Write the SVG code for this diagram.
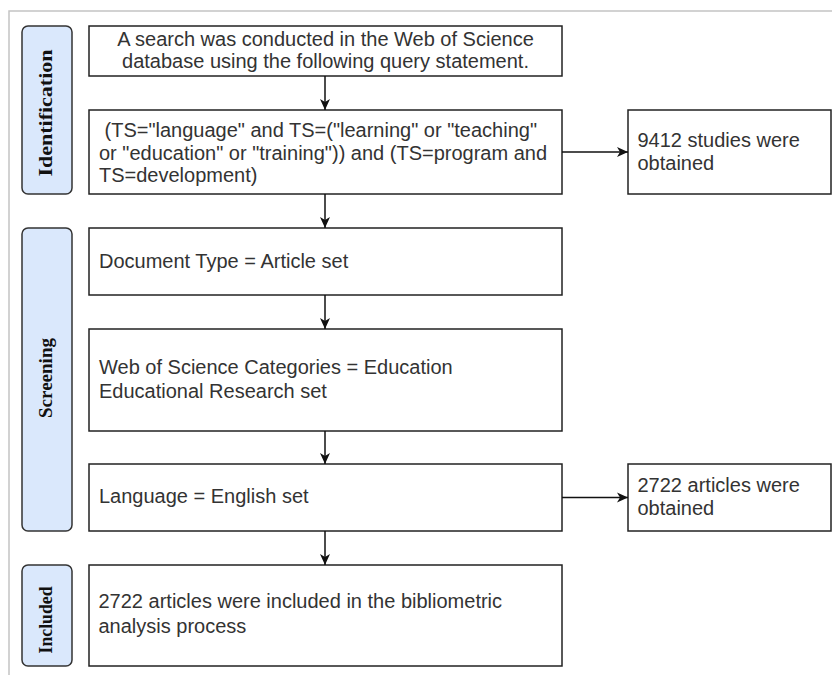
<svg xmlns="http://www.w3.org/2000/svg" width="832" height="675" viewBox="0 0 832 675">
<defs>
<marker id="arr" markerWidth="12" markerHeight="12" refX="11" refY="6" orient="auto" markerUnits="userSpaceOnUse">
<path d="M0,1 L11,6 L0,11 L3,6 Z" fill="#111"/>
</marker>
<style>
.box{fill:#fff;stroke:#222;stroke-width:1.5}
.side{fill:#dae8fc;stroke:#333;stroke-width:1.5}
.t{font-family:"Liberation Sans",Arial,sans-serif;font-size:20px;fill:#333}
.c{text-anchor:middle}
.s{font-family:"Liberation Serif","Times New Roman",serif;font-size:19px;font-weight:bold;fill:#111;text-anchor:middle}
.ln{stroke:#111;stroke-width:1.5;fill:none;marker-end:url(#arr)}
</style>
</defs>
<rect width="832" height="675" fill="#fff"/>
<path d="M9,675 V11 H832" fill="none" stroke="#c4c4c4" stroke-width="1.5"/>

<g id="lbl-identification">
<rect class="side" x="22" y="26" width="50" height="168" rx="6"/>
<text class="s" transform="translate(52,113) rotate(-90)" textLength="127" lengthAdjust="spacingAndGlyphs">Identification</text>
</g>
<g id="lbl-screening">
<rect class="side" x="22" y="228" width="50" height="303" rx="6"/>
<text class="s" transform="translate(52,378) rotate(-90)" textLength="80" lengthAdjust="spacingAndGlyphs">Screening</text>
</g>
<g id="lbl-included">
<rect class="side" x="22" y="565" width="50" height="101" rx="6"/>
<text class="s" transform="translate(52,620) rotate(-90)" textLength="67" lengthAdjust="spacingAndGlyphs">Included</text>
</g>

<g id="n1">
<rect class="box" x="89" y="26" width="473" height="50"/>
<text class="t c" x="325.5" y="45.5">A search was conducted in the Web of Science</text>
<text class="t c" x="325.5" y="67.5">database using the following query statement.</text>
</g>
<g id="n2">
<rect class="box" x="89" y="110" width="473" height="84"/>
<text class="t" x="104.5" y="137">(TS="language" and TS=("learning" or "teaching"</text>
<text class="t" x="99" y="159.5">or "education" or "training")) and (TS=program and</text>
<text class="t" x="99" y="182">TS=development)</text>
</g>
<g id="n2r">
<rect class="box" x="628" y="110" width="203" height="84"/>
<text class="t" x="637.5" y="146.5">9412 studies were</text>
<text class="t" x="637.5" y="169.5">obtained</text>
</g>
<g id="n3">
<rect class="box" x="89" y="228" width="473" height="67"/>
<text class="t" x="99" y="268">Document Type = Article set</text>
</g>
<g id="n4">
<rect class="box" x="89" y="329" width="473" height="102"/>
<text class="t" x="99" y="373.5">Web of Science Categories = Education</text>
<text class="t" x="99" y="397.5">Educational Research set</text>
</g>
<g id="n5">
<rect class="box" x="89" y="464" width="473" height="67"/>
<text class="t" x="99" y="502.5">Language = English set</text>
</g>
<g id="n5r">
<rect class="box" x="628" y="464" width="203" height="67"/>
<text class="t" x="637.5" y="491.5">2722 articles were</text>
<text class="t" x="637.5" y="515">obtained</text>
</g>
<g id="n6">
<rect class="box" x="89" y="565" width="473" height="101"/>
<text class="t" x="98.5" y="608">2722 articles were included in the bibliometric</text>
<text class="t" x="98.5" y="632.5">analysis process</text>
</g>

<g id="connectors">
<line class="ln" x1="325" y1="76" x2="325" y2="110"/>
<line class="ln" x1="325" y1="194" x2="325" y2="228"/>
<line class="ln" x1="325" y1="295" x2="325" y2="329"/>
<line class="ln" x1="325" y1="431" x2="325" y2="464"/>
<line class="ln" x1="325" y1="531" x2="325" y2="565"/>
<line class="ln" x1="562" y1="152" x2="628" y2="152"/>
<line class="ln" x1="562" y1="497.5" x2="628" y2="497.5"/>
</g>
</svg>
